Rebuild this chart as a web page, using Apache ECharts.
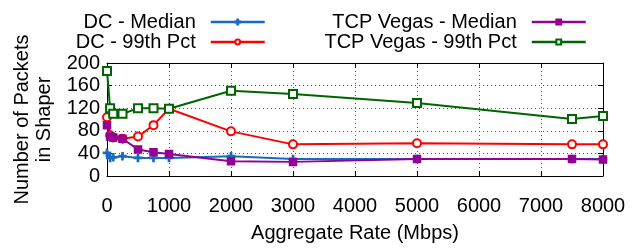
<!DOCTYPE html>
<html>
<head>
<meta charset="utf-8">
<script src="https://cdn.jsdelivr.net/npm/echarts@6/dist/echarts.min.js"></script>
<style>
  html, body { margin: 0; padding: 0; background: #fff; }
  #chart { width: 634px; height: 248px; }
</style>
</head>
<body>
<div id="chart"></div>
<script>
// aggregate rate (Mbps)
const rates = [0, 50, 100, 250, 500, 750, 1000, 2000, 3000, 5000, 7500, 8000]
const dcMedian = [41, 32, 33, 35, 32, 32, 32, 35, 30, 30, 30, 30]
const dc99 = [104, 72, 68, 66, 70, 90, 119, 79, 56, 58, 56, 56]
const vegasMedian = [90, 70, 68, 66, 47, 42, 39, 26, 25, 30, 30, 29]
const vegas99 = [186, 120, 110, 110, 120, 120, 119, 151, 145, 129, 101, 106]
const yTicks = [0, 40, 80, 120, 160, 200]
const xTicks = [0, 1000, 2000, 3000, 4000, 5000, 6000, 7000, 8000]

const font = 'Liberation Sans, Arial, sans-serif'
const pairs = (ys) => rates.map((x, i) => [x, ys[i]])

function makeSeries(name, ys, color, symbol, size) {
  return {
    name: name,
    type: 'line',
    data: pairs(ys),
    symbol: symbol,
    symbolSize: size,
    showSymbol: true,
    lineStyle: { width: 2, color: color },
    itemStyle: { color: color, borderColor: color, borderWidth: 1.5 },
    animation: false
  }
}

// one legend per entry so the text is right-aligned against the line sample
function legendItem(name, right, top) {
  return {
    data: [name],
    orient: 'vertical',
    align: 'right',
    right: right,
    top: top,
    padding: 0,
    itemWidth: 54,
    itemHeight: 6,
    lineStyle: { width: 2.5 },
    textStyle: { fontSize: 20, color: '#000', fontFamily: font, padding: [0, 10, 0, 0] }
  }
}

const plus = 'path://M3.3,0H4.7V3.3H8V4.7H4.7V8H3.3V4.7H0V3.3H3.3Z'

let option = {
  backgroundColor: '#fff',
  animation: false,
  textStyle: { fontFamily: font },
  legend: [
    legendItem('DC - Median', 368, 12),
    legendItem('DC - 99th Pct', 368, 32),
    legendItem('TCP Vegas - Median', 47, 12),
    legendItem('TCP Vegas - 99th Pct', 47, 32)
  ],
  grid: {
    left: 107,
    right: 31,
    top: 63,
    bottom: 57
  },
  xAxis: [
    {
      type: 'value',
      min: 0,
      max: 8000,
      interval: 1000,
      name: 'Aggregate Rate (Mbps)',
      nameLocation: 'middle',
      nameGap: 47,
      nameTextStyle: { fontSize: 20, color: '#000', fontFamily: font },
      axisLine: { show: true, onZero: false, lineStyle: { color: '#000', width: 1 } },
      axisTick: { show: true, inside: true, length: 5, lineStyle: { color: '#000' } },
      axisLabel: { fontSize: 20, color: '#000', margin: 20, fontFamily: font,
        formatter: v => xTicks.includes(v) ? String(v) : '' },
      splitLine: { show: true, lineStyle: { color: '#555', type: [1, 3], width: 1 } }
    },
    {
      type: 'value',
      position: 'top',
      min: 0,
      max: 8000,
      interval: 1000,
      axisLine: { show: true, onZero: false, lineStyle: { color: '#000', width: 1 } },
      axisTick: { show: true, inside: true, length: 5, lineStyle: { color: '#000' } },
      axisLabel: { show: false },
      splitLine: { show: false }
    }
  ],
  yAxis: [
    {
      type: 'value',
      min: 0,
      max: 200,
      interval: 40,
      name: 'Number of Packets\nin Shaper',
      nameLocation: 'middle',
      nameGap: 48,
      nameRotate: 90,
      nameTextStyle: { fontSize: 20, color: '#000', fontFamily: font, lineHeight: 22 },
      axisLine: { show: true, onZero: false, lineStyle: { color: '#000', width: 1 } },
      axisTick: { show: true, inside: true, length: 5, lineStyle: { color: '#000' } },
      axisLabel: { fontSize: 20, color: '#000', margin: 7, fontFamily: font,
        formatter: v => yTicks.includes(v) ? String(v) : '' },
      splitLine: { show: true, lineStyle: { color: '#555', type: [1, 3], width: 1 } }
    },
    {
      type: 'value',
      position: 'right',
      min: 0,
      max: 200,
      interval: 40,
      axisLine: { show: true, onZero: false, lineStyle: { color: '#000', width: 1 } },
      axisTick: { show: true, inside: true, length: 5, lineStyle: { color: '#000' } },
      axisLabel: { show: false },
      splitLine: { show: false }
    }
  ],
  series: [
    makeSeries('DC - Median', dcMedian, '#1a6bbd', plus, 7),
    makeSeries('DC - 99th Pct', dc99, '#ff0000', 'emptyCircle', 8),
    makeSeries('TCP Vegas - Median', vegasMedian, '#940094', 'rect', 7),
    makeSeries('TCP Vegas - 99th Pct', vegas99, '#006400', 'emptyRect', 8)
  ]
}

let chart = echarts.init(document.getElementById('chart'))
chart.setOption(option)
</script>
</body>
</html>
